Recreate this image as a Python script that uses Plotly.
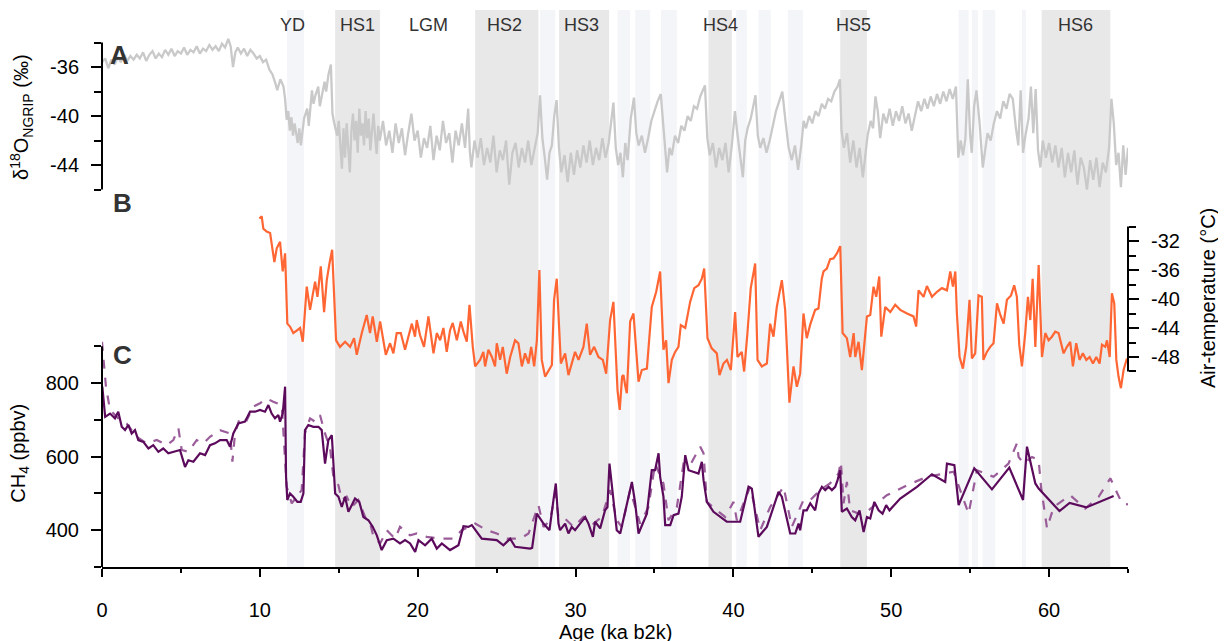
import plotly.graph_objects as go

# ---------------- data ----------------
age_a = [0.0,0.2,0.4,0.6,0.8,1.0,1.2,1.4,1.6,1.8,2.0,2.2,2.4,2.6,2.8,3.0,3.2,3.4,3.6,3.8,
         4.0,4.2,4.4,4.6,4.8,5.0,5.2,5.4,5.6,5.8,6.0,6.2,6.4,6.6,6.8,7.0,7.2,7.4,7.6,7.8,
         8.0,8.15,8.3,8.45,8.6,8.8,9.0,9.2,9.4,9.6,9.8,10.0,10.2,10.4,10.6,10.8,11.0,11.1,11.3,11.5,
         11.6,11.7,11.8,11.9,12.0,12.1,12.2,12.4,12.5,12.6,12.7,12.8,13.0,13.1,13.3,13.4,13.5,13.7,13.8,14.0,
         14.1,14.2,14.35,14.5,14.6,14.7,14.9,15.0,15.1,15.2,15.3,15.4,15.5,15.6,15.7,15.8,15.9,16.0,16.1,16.2,
         16.3,16.4,16.5,16.6,16.7,16.8,16.9,17.0,17.1,17.2,17.3,17.4,17.5,17.6,17.8,18.0,18.2,18.4,18.6,18.8,
         19.0,19.2,19.4,19.6,19.8,20.0,20.2,20.4,20.6,20.8,21.0,21.2,21.4,21.6,21.8,22.0,22.2,22.4,22.6,22.8,
         23.0,23.2,23.3,23.4,23.6,23.8,24.0,24.2,24.4,24.6,24.8,25.0,25.2,25.4,25.6,25.8,26.0,26.2,26.4,26.6,
         26.8,27.0,27.2,27.4,27.6,27.75,27.9,28.05,28.2,28.35,28.5,28.65,28.8,28.95,29.1,29.3,29.5,29.7,29.9,30.1,
         30.3,30.5,30.7,30.9,31.1,31.3,31.5,31.7,31.9,32.1,32.25,32.4,32.55,32.7,32.85,33.0,33.15,33.3,33.5,33.7,
         33.85,34.0,34.2,34.4,34.6,34.8,35.0,35.2,35.4,35.6,35.8,35.95,36.1,36.3,36.5,36.7,36.9,37.1,37.3,37.5,
         37.7,37.9,38.05,38.2,38.35,38.5,38.7,38.9,39.1,39.3,39.5,39.7,39.9,40.1,40.25,40.4,40.6,40.75,40.9,41.1,
         41.25,41.4,41.55,41.7,41.9,42.1,42.3,42.5,42.7,42.9,43.1,43.3,43.5,43.7,43.9,44.1,44.3,44.45,44.6,44.8,
         45.0,45.2,45.4,45.6,45.8,46.0,46.2,46.4,46.6,46.75,46.85,47.0,47.2,47.4,47.6,47.8,48.0,48.2,48.35,48.5,
         48.7,48.85,49.0,49.15,49.3,49.5,49.7,49.9,50.1,50.3,50.5,50.7,50.9,51.1,51.3,51.5,51.7,51.9,52.1,52.3,
         52.5,52.7,52.9,53.1,53.3,53.5,53.7,53.9,54.1,54.25,54.4,54.55,54.7,54.85,55.0,55.1,55.25,55.4,55.6,55.8,
         55.95,56.1,56.3,56.5,56.7,56.9,57.1,57.3,57.5,57.7,57.9,58.05,58.2,58.35,58.5,58.7,58.85,59.0,59.15,59.3,
         59.45,59.6,59.8,60.0,60.2,60.4,60.6,60.8,61.0,61.2,61.4,61.6,61.8,62.0,62.2,62.4,62.6,62.8,63.0,63.2,
         63.4,63.6,63.8,63.95,64.1,64.25,64.4,64.55,64.7,64.85,65.0]
d18o = [-35.6,-35.3,-36.1,-35.4,-35.8,-35.2,-35.6,-35.0,-35.5,-35.1,-35.4,-35.0,-35.3,-34.8,-35.5,-35.0,-34.7,-35.3,-34.9,-35.2,
        -34.6,-35.0,-34.5,-35.1,-34.7,-34.9,-34.4,-35.0,-34.6,-34.8,-34.3,-34.9,-34.5,-34.7,-34.2,-34.6,-34.3,-34.7,-34.1,-34.4,
        -33.7,-34.3,-36.0,-34.8,-34.4,-34.9,-34.5,-35.1,-34.6,-34.9,-35.3,-35.1,-35.6,-35.4,-36.2,-36.6,-37.4,-37.9,-37.0,-37.6,
        -38.6,-40.3,-39.6,-41.2,-40.1,-41.6,-40.6,-42.2,-41.0,-42.4,-41.3,-40.2,-39.4,-40.8,-37.9,-39.0,-38.4,-37.6,-39.2,-37.8,
        -37.2,-38.0,-36.6,-35.8,-39.8,-40.5,-41.6,-40.4,-42.2,-44.3,-41.0,-43.4,-40.6,-42.6,-44.6,-41.2,-39.8,-42.0,-40.4,-43.0,
        -39.4,-41.6,-40.6,-42.4,-39.6,-41.8,-40.2,-42.8,-41.0,-39.8,-41.6,-43.1,-40.8,-42.0,-40.4,-42.4,-41.2,-43.0,-40.6,-42.2,
        -41.0,-43.2,-41.4,-39.8,-42.0,-41.2,-43.4,-41.8,-42.6,-40.8,-43.6,-41.6,-42.8,-40.4,-42.2,-41.4,-43.8,-41.2,-42.4,-40.6,
        -42.6,-39.4,-42.8,-44.2,-42.0,-43.4,-41.8,-44.0,-42.6,-43.8,-41.6,-44.6,-42.8,-43.6,-42.0,-45.6,-43.0,-42.2,-44.2,-42.6,
        -43.8,-42.0,-44.0,-42.8,-41.4,-38.3,-41.8,-43.4,-45.2,-43.0,-42.4,-40.0,-38.7,-42.6,-44.6,-43.2,-45.4,-43.0,-44.8,-42.8,
        -44.2,-42.4,-43.8,-42.0,-44.0,-42.6,-43.6,-41.8,-43.4,-42.2,-40.6,-38.9,-42.6,-44.0,-43.0,-45.0,-42.2,-43.6,-40.2,-38.5,
        -41.4,-42.4,-41.6,-43.0,-41.8,-40.4,-39.6,-38.8,-38.2,-41.2,-44.6,-42.6,-43.2,-41.6,-42.2,-40.8,-41.2,-40.0,-40.4,-39.2,
        -39.4,-38.4,-38.0,-37.5,-41.8,-43.2,-42.2,-44.2,-42.6,-43.6,-42.2,-44.6,-42.4,-39.6,-41.4,-42.8,-45.0,-42.0,-41.0,-40.2,
        -39.2,-38.3,-41.6,-42.6,-41.8,-43.0,-42.0,-40.8,-39.6,-38.8,-38.0,-40.4,-42.6,-43.6,-42.4,-44.4,-42.4,-40.4,-41.0,-40.0,
        -40.6,-39.6,-40.0,-39.0,-39.4,-38.6,-38.8,-38.0,-37.6,-37.0,-41.2,-42.6,-41.4,-43.8,-42.0,-44.2,-42.6,-45.0,-43.2,-41.6,
        -40.4,-41.0,-38.4,-39.6,-41.8,-39.8,-40.6,-39.4,-40.8,-39.6,-40.4,-39.2,-40.6,-39.8,-41.2,-40.0,-38.8,-39.6,-38.6,-39.4,
        -38.4,-39.2,-38.2,-39.0,-38.0,-38.8,-37.8,-38.6,-37.6,-43.4,-42.0,-43.2,-41.8,-37.0,-41.6,-43.0,-39.2,-37.9,-40.6,-44.2,
        -42.8,-41.4,-42.0,-40.6,-39.6,-40.2,-38.8,-39.4,-38.2,-38.6,-41.0,-42.4,-37.9,-43.0,-41.6,-40.2,-37.6,-41.4,-37.8,-42.8,
        -44.2,-42.0,-43.4,-42.2,-43.8,-42.4,-44.2,-42.6,-45.0,-43.0,-44.6,-42.8,-45.6,-43.4,-44.2,-46.0,-43.6,-45.2,-43.4,-45.8,
        -43.8,-44.6,-42.6,-38.6,-40.6,-44.0,-43.0,-45.8,-42.4,-44.8,-42.6]

age_b = [9.97,10.12,10.22,10.43,10.65,10.92,11.07,11.28,11.45,11.6,11.74,11.91,12.12,12.34,12.55,12.72,12.97,13.18,13.5,13.65,
         13.86,14.07,14.24,14.41,14.58,14.83,15.08,15.4,15.72,15.97,16.14,16.46,16.77,16.98,17.15,17.41,17.62,17.98,18.25,18.46,
         18.67,18.93,19.2,19.41,19.63,19.83,19.94,20.15,20.4,20.68,21.0,21.21,21.42,21.63,21.84,22.05,22.22,22.48,22.73,22.9,
         23.11,23.28,23.49,23.64,23.95,24.16,24.27,24.48,24.7,24.9,25.01,25.22,25.39,25.64,25.86,26.17,26.38,26.6,26.8,27.02,
         27.19,27.38,27.55,27.71,27.86,28.07,28.29,28.5,28.64,28.81,29.07,29.34,29.55,29.76,29.97,30.19,30.5,30.71,30.92,31.18,
         31.45,31.73,31.94,32.19,32.4,32.66,32.8,32.95,33.04,33.15,33.25,33.46,33.67,33.99,34.2,34.52,34.83,35.11,35.36,35.57,
         35.74,35.89,36.1,36.31,36.52,36.67,36.95,37.26,37.52,37.79,38.0,38.15,38.36,38.63,38.95,39.12,39.37,39.59,39.84,40.11,
         40.26,40.53,40.68,40.89,41.1,41.38,41.53,41.8,42.12,42.33,42.54,42.75,43.07,43.28,43.55,43.81,44.02,44.23,44.44,44.65,
         44.87,45.18,45.39,45.6,45.71,45.92,46.13,46.34,46.56,46.77,46.92,47.19,47.4,47.62,47.72,47.93,48.14,48.46,48.67,48.88,
         49.05,49.24,49.37,49.62,49.94,50.25,50.57,51.0,51.41,51.58,51.73,52.05,52.26,52.58,52.9,53.21,53.53,53.74,53.91,54.06,
         54.16,54.33,54.54,54.75,54.96,55.11,55.32,55.53,55.74,55.84,56.06,56.27,56.48,56.7,56.91,57.12,57.33,57.59,57.79,57.96,
         58.11,58.28,58.49,58.66,58.81,58.96,59.13,59.34,59.55,59.76,59.97,60.18,60.39,60.6,60.92,61.13,61.34,61.51,61.72,61.93,
         62.14,62.36,62.57,62.78,62.99,63.2,63.35,63.56,63.67,63.84,63.98,64.13,64.26,64.4,64.55,64.72,64.93]
temp_b = [-28.9,-28.6,-30.3,-30.7,-30.9,-34.9,-33.0,-32.1,-36.2,-33.7,-43.4,-43.8,-44.7,-44.3,-44.0,-45.9,-38.3,-41.5,-37.6,-39.7,
          -35.5,-41.8,-37.4,-35.1,-33.2,-45.7,-46.6,-45.9,-46.6,-45.4,-47.7,-44.7,-42.2,-44.7,-42.4,-45.9,-43.1,-47.7,-46.1,-47.5,
          -44.7,-44.7,-47.0,-45.2,-43.4,-45.2,-42.9,-45.0,-46.6,-42.4,-47.5,-44.7,-45.7,-44.0,-47.3,-44.3,-43.3,-45.7,-43.1,-44.5,
          -45.9,-40.8,-46.6,-49.3,-48.4,-47.3,-49.3,-47.0,-48.0,-49.3,-46.1,-48.4,-46.6,-50.3,-48.0,-45.7,-46.1,-49.3,-47.5,-48.9,
          -46.6,-49.3,-45.7,-36.0,-48.4,-50.7,-49.8,-49.1,-40.1,-37.2,-48.9,-47.5,-50.5,-48.9,-47.3,-48.4,-46.6,-43.4,-47.7,-46.6,
          -48.0,-48.4,-50.3,-42.9,-40.4,-52.6,-55.3,-50.7,-50.5,-52.0,-53.0,-43.1,-42.0,-51.4,-49.8,-49.6,-41.1,-39.0,-36.2,-47.0,
          -45.7,-51.6,-48.4,-47.3,-46.6,-43.6,-44.0,-40.4,-38.5,-38.1,-37.2,-35.8,-45.4,-46.8,-47.5,-50.5,-48.9,-48.4,-49.8,-41.8,
          -48.0,-47.3,-50.0,-44.7,-38.5,-35.1,-48.4,-49.3,-48.9,-43.4,-45.2,-41.1,-37.4,-41.5,-54.3,-49.3,-52.1,-50.3,-42.0,-45.4,
          -43.5,-41.5,-41.3,-37.2,-36.2,-35.8,-34.5,-34.4,-33.7,-32.7,-44.7,-45.4,-48.0,-44.7,-48.0,-45.9,-49.8,-42.4,-42.2,-38.3,
          -39.7,-36.9,-45.2,-41.1,-41.8,-40.8,-41.5,-42.0,-42.4,-43.8,-38.8,-39.7,-38.2,-39.7,-39.0,-38.5,-38.8,-36.2,-38.3,-36.2,
          -42.0,-48.0,-49.6,-46.6,-40.1,-48.2,-47.5,-39.5,-39.7,-48.4,-47.3,-46.6,-46.1,-40.6,-42.2,-43.4,-40.1,-39.5,-38.1,-39.7,
          -46.3,-49.3,-44.7,-39.7,-42.9,-37.2,-46.6,-35.3,-48.0,-44.7,-45.7,-45.2,-44.5,-44.7,-47.5,-46.6,-45.9,-49.3,-46.1,-48.4,
          -47.5,-48.4,-48.0,-48.9,-48.0,-48.9,-46.3,-46.6,-45.7,-48.0,-39.2,-40.6,-48.4,-50.7,-52.3,-49.8,-48.2]

age_c1 = [0.02,0.1,0.2,0.51,0.82,1.03,1.25,1.46,1.67,1.88,2.09,2.3,2.62,2.94,3.25,3.57,3.88,4.2,4.52,4.94,
          5.26,5.47,5.79,6.21,6.53,6.84,7.16,7.48,7.9,8.11,8.32,8.64,9.06,9.38,9.7,10.01,10.33,10.54,10.75,10.96,
          11.17,11.28,11.45,11.6,11.66,11.74,11.91,12.12,12.38,12.59,12.76,12.86,13.07,13.39,13.71,13.92,14.13,14.34,14.56,14.77,
          14.98,15.19,15.4,15.61,15.82,16.03,16.3,16.56,16.88,17.15,17.41,17.72,18.04,18.46,18.88,19.2,19.52,19.84,20.05,20.47,
          20.89,21.21,21.53,22.05,22.58,22.9,23.21,23.43,24.06,25.01,25.43,25.86,26.17,27.12,27.25,27.55,27.97,28.35,28.6,28.75,
          28.92,29.02,29.34,29.55,29.76,29.97,30.29,30.61,30.82,31.1,31.24,31.56,31.87,32.02,32.15,32.3,32.61,32.83,33.25,33.57,
          33.78,33.99,34.52,34.83,35.04,35.26,35.36,35.57,35.68,36.0,36.21,36.52,36.73,36.95,37.16,37.47,37.79,38.0,38.11,38.32,
          38.74,39.58,40.43,40.96,41.17,41.59,42.12,42.86,43.07,43.6,43.92,44.13,44.23,44.44,44.65,44.87,45.18,45.39,45.61,45.82,
          46.03,46.24,46.45,46.6,46.77,46.87,47.19,47.5,47.72,47.99,48.25,48.46,48.67,48.93,49.2,49.45,49.68,49.89,50.57,51.63,
          52.58,53.42,53.53,54.0,54.27,55.26,56.38,57.48,58.35,58.6,59.13,59.34,60.66,61.3,62.36,64.09]
ch4_c1 = [790,760,708,717,704,722,681,672,686,663,672,645,640,622,631,613,622,609,613,618,
          572,590,586,609,604,631,636,645,645,627,663,690,695,722,722,727,722,740,717,704,
          713,695,717,790,545,482,500,491,477,477,500,672,686,681,681,672,581,645,658,500,
          491,463,491,450,468,486,477,436,427,409,386,346,373,377,364,373,364,341,373,359,
          377,350,364,346,359,411,409,414,377,373,359,377,355,350,352,445,418,400,482,527,
          418,400,418,391,409,400,418,436,418,382,423,405,454,463,581,518,400,391,473,531,
          473,391,445,563,563,609,545,491,414,414,441,445,491,604,563,559,554,586,536,477,
          450,423,423,518,513,382,409,504,491,391,391,418,400,454,454,473,454,500,518,509,
          518,509,518,536,563,450,459,436,427,454,395,436,432,477,454,445,468,454,486,518,
          552,531,581,577,468,568,511,570,482,627,527,513,452,474,462,493]

age_c2 = [0.0,0.25,0.51,1.03,1.56,2.2,2.83,3.47,4.1,4.52,4.84,5.05,5.47,6.0,6.42,6.84,7.48,8.11,8.26,8.43,
          8.75,9.17,9.59,10.01,10.44,10.85,11.39,11.6,11.7,12.02,12.44,12.65,12.86,13.18,13.5,13.81,14.13,14.45,14.66,14.98,
          15.19,15.5,15.82,16.24,16.67,16.99,17.2,17.62,18.04,18.57,18.88,19.52,19.94,20.58,21.42,22.26,22.79,23.64,24.38,25.01,
          25.65,26.49,27.02,27.65,27.97,28.39,28.71,28.92,29.23,29.87,30.5,31.13,31.67,32.19,32.61,32.93,33.46,34.09,34.62,35.04,
          35.57,35.89,36.42,36.84,37.26,37.9,38.11,38.32,38.95,39.48,40.01,40.22,41.06,41.7,42.33,43.18,43.7,44.44,44.87,45.5,
          46.12,46.66,46.81,46.98,47.19,47.4,47.93,48.46,49.72,50.99,52.26,53.53,53.95,54.9,55.43,56.48,57.43,57.96,58.07,58.39,
          58.92,59.34,59.49,59.87,60.29,61.34,62.29,63.14,63.88,64.62,65.0]
ch4_c2 = [912,790,727,704,690,654,636,645,631,645,677,618,613,645,636,654,672,663,586,663,
          708,699,736,745,758,749,740,599,518,473,495,509,663,704,695,713,663,622,545,522,
          482,491,463,482,436,418,382,364,400,377,409,386,391,382,377,377,400,418,400,391,
          377,377,391,468,409,427,500,436,436,409,436,418,436,509,427,409,509,418,463,581,
          527,427,463,581,577,627,609,477,454,436,477,427,518,400,463,518,409,482,482,509,
          527,554,586,473,531,454,445,450,495,522,545,554,559,445,563,545,581,636,599,581,
          599,590,518,405,463,495,459,491,541,473,470]

# event bands (ka)
hs_start = [14.77, 23.64, 28.96, 38.42, 46.77, 59.53]
hs_end = [17.62, 27.65, 32.13, 39.90, 48.46, 63.88]
gs_start = [11.72, 27.76, 32.66, 33.78, 35.42, 40.18, 41.59, 43.45, 54.27, 55.11, 55.79, 58.28]
gs_end = [12.80, 28.71, 33.46, 34.73, 36.42, 40.85, 42.37, 44.40, 54.90, 55.49, 56.59, 58.53]
label_names = ["YD", "HS1", "LGM", "HS2", "HS3", "HS4", "HS5", "HS6"]
label_pos = [12.1, 16.2, 20.7, 25.5, 30.4, 39.2, 47.6, 61.7]

# tick labels
ticks_a = [-36, -40, -44]
ticks_b = [-32, -36, -40, -44, -48]
ticks_c = [400, 600, 800]
ticks_x = [0, 10, 20, 30, 40, 50, 60]

# ---------------- figure ----------------
FONT = "Arial, Liberation Sans, sans-serif"
fig = go.Figure()

fig.add_trace(go.Scatter(x=age_a, y=d18o, mode="lines", xaxis="x", yaxis="y",
                         line=dict(color="#c9c9c9", width=2.3), showlegend=False, hoverinfo="skip"))
fig.add_trace(go.Scatter(x=age_b, y=temp_b, mode="lines", xaxis="x", yaxis="y2",
                         line=dict(color="#ff6633", width=2.2), showlegend=False, hoverinfo="skip"))
fig.add_trace(go.Scatter(x=age_c2, y=ch4_c2, mode="lines", xaxis="x", yaxis="y3",
                         line=dict(color="#9a5d9a", width=2.2, dash="dash"), showlegend=False, hoverinfo="skip"))
fig.add_trace(go.Scatter(x=age_c1, y=ch4_c1, mode="lines", xaxis="x", yaxis="y3",
                         line=dict(color="#5c0a5c", width=2.2), showlegend=False, hoverinfo="skip"))

shapes = []
for s, e in zip(gs_start, gs_end):
    shapes.append(dict(type="rect", xref="x", yref="paper", x0=s, x1=e, y0=0, y1=1,
                       fillcolor="#f4f5f8", line=dict(width=0), layer="below"))
for s, e in zip(hs_start, hs_end):
    shapes.append(dict(type="rect", xref="x", yref="paper", x0=s, x1=e, y0=0, y1=1,
                       fillcolor="#e8e8e8", line=dict(width=0), layer="below"))
# axis spines limited to the labelled span
shapes.append(dict(type="line", xref="paper", yref="y", x0=0, x1=0, y0=-46, y1=-34,
                   line=dict(color="black", width=2)))
shapes.append(dict(type="line", xref="paper", yref="y2", x0=1, x1=1, y0=-50, y1=-30,
                   line=dict(color="black", width=2)))
shapes.append(dict(type="line", xref="paper", yref="y3", x0=0, x1=0, y0=300, y1=900,
                   line=dict(color="black", width=2)))

annotations = []
for name, pos in zip(label_names, label_pos):
    annotations.append(dict(text=name, x=pos, xref="x", y=0.973, yref="paper", showarrow=False,
                            xanchor="center", yanchor="middle",
                            font=dict(size=18, color="#333333", family=FONT)))
for letter, px, py in [("A", 0.0175, 0.919), ("B", 0.0195, 0.6535), ("C", 0.0195, 0.3806)]:
    annotations.append(dict(text="<b>%s</b>" % letter, x=px, y=py, xref="paper", yref="paper",
                            showarrow=False, xanchor="center", yanchor="middle",
                            font=dict(size=26, color="#333333", family=FONT)))
annotations.append(dict(text="δ<sup>18</sup>O<sub>NGRIP</sub> (‰)", x=-0.078, y=0.808, xref="paper",
                        yref="paper", textangle=-90, showarrow=False, xanchor="center", yanchor="middle",
                        font=dict(size=20, color="black", family=FONT)))
annotations.append(dict(text="CH<sub>4</sub> (ppbv)", x=-0.080, y=0.205, xref="paper",
                        yref="paper", textangle=-90, showarrow=False, xanchor="center", yanchor="middle",
                        font=dict(size=20, color="black", family=FONT)))
annotations.append(dict(text="Air-temperature (°C)", x=1.078, y=0.483, xref="paper",
                        yref="paper", textangle=-90, showarrow=False, xanchor="center", yanchor="middle",
                        font=dict(size=20, color="black", family=FONT)))
annotations.append(dict(text="Age (ka b2k)", x=0.5, y=-0.1167, xref="paper", yref="paper",
                        showarrow=False, xanchor="center", yanchor="middle",
                        font=dict(size=20, color="black", family=FONT)))

tickfont = dict(size=20, color="black", family=FONT)
tk = dict(ticks="outside", tickwidth=2, tickcolor="black", tickfont=tickfont,
          showgrid=False, zeroline=False)
fig.update_layout(
    width=1226, height=641,
    margin=dict(l=94, r=106, t=2, b=82),
    paper_bgcolor="white", plot_bgcolor="rgba(0,0,0,0)",
    font=dict(family=FONT),
    shapes=shapes, annotations=annotations,
    xaxis=dict(domain=[0, 1], range=[0, 65], anchor="y3", showline=True, linecolor="black",
               linewidth=2, ticklen=8, tickvals=ticks_x, ticklabelstandoff=16,
               minor=dict(tickvals=[5, 15, 25, 35, 45, 55, 65], ticks="outside", ticklen=4,
                          tickwidth=2, tickcolor="black"), **tk),
    yaxis=dict(domain=[0.6557, 0.9636], range=[-47, -33], anchor="x", showline=False,
               ticklen=10, tickvals=ticks_a, ticktext=[str(v) for v in ticks_a], ticklabelstandoff=8,
               minor=dict(tickvals=[-34, -38, -42, -46], ticks="outside", ticklen=7,
                          tickwidth=2, tickcolor="black"), **tk),
    yaxis2=dict(domain=[0.2599, 0.6373], range=[-57, -28], anchor="x", side="right",
                showline=False, ticklen=10, tickvals=ticks_b, ticktext=[str(v) for v in ticks_b],
                ticklabelstandoff=8,
                minor=dict(tickvals=[-30, -34, -38, -42, -46, -50], ticks="outside", ticklen=7,
                           tickwidth=2, tickcolor="black"), **tk),
    yaxis3=dict(domain=[0, 0.4228], range=[300, 940], anchor="x", showline=False,
                ticklen=10, tickvals=ticks_c, ticktext=[str(v) for v in ticks_c], ticklabelstandoff=8,
                minor=dict(tickvals=[300, 500, 700, 900], ticks="outside", ticklen=7,
                           tickwidth=2, tickcolor="black"), **tk),
)

fig.write_html("out.html")
